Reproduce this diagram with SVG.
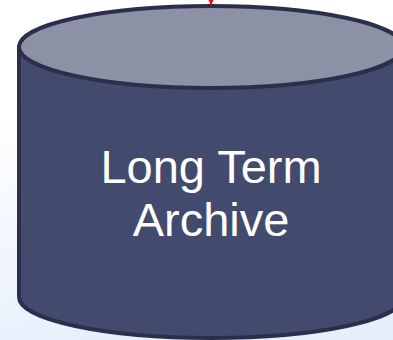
<svg xmlns="http://www.w3.org/2000/svg" width="393" height="340" viewBox="0 0 393 340">
  <defs>
    <linearGradient id="bg" x1="0" y1="0" x2="0.3" y2="1">
      <stop offset="0" stop-color="#ffffff"/>
      <stop offset="0.3" stop-color="#ffffff"/>
      <stop offset="1" stop-color="#e6effc"/>
    </linearGradient>
    <marker id="arrow" viewBox="0 0 10 10" refX="10" refY="5" markerWidth="8" markerHeight="6" orient="auto" markerUnits="userSpaceOnUse">
      <path d="M0,0 L10,5 L0,10 z" fill="#ff0000"/>
    </marker>
    <style>
      .body { fill: #424a6d; stroke: #2b2f4c; stroke-width: 4; }
      .top { fill: #8c91a6; stroke: #2b2f4c; stroke-width: 4; }
      .label { font-family: "Liberation Sans", Arial, sans-serif; font-size: 47px; fill: #ffffff; text-anchor: middle; }
      .conn { stroke: #ff0000; stroke-width: 2; fill: none; }
    </style>
  </defs>
  <rect x="0" y="0" width="393" height="340" fill="url(#bg)"/>
  <g id="long-term-archive">
    <path class="body" d="M19,47 L19,297 A192,41 0 0 0 403,297 L403,47 Z"/>
    <ellipse class="top" cx="211" cy="47" rx="192" ry="41"/>
    <text class="label" x="211" y="182.5">Long Term</text>
    <text class="label" x="211" y="235.5">Archive</text>
  </g>
  <g id="connectors">
    <line class="conn" x1="211" y1="-30" x2="211" y2="5" marker-end="url(#arrow)"/>
  </g>
</svg>
